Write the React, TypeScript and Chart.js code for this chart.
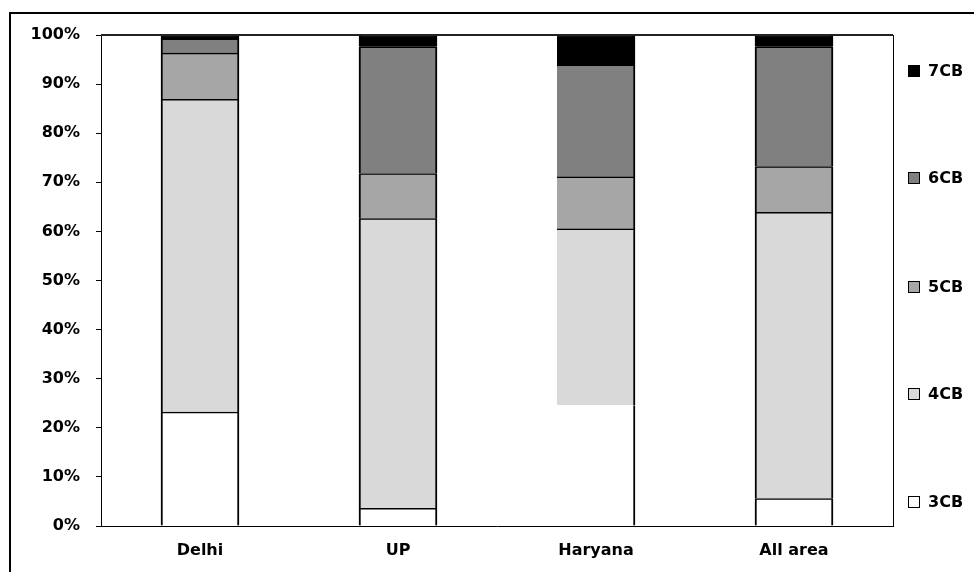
import React, { useEffect, useRef } from "react";
import { Chart, registerables } from "chart.js";

Chart.register(...registerables);

const categories = ["Delhi", "UP", "Haryana", "All area"];
const seriesNames = ["3CB", "4CB", "5CB", "6CB", "7CB"];
const cb3 = [23.2, 3.6, 24.6, 5.6];
const cb4 = [63.7, 59.0, 35.9, 58.3];
const cb5 = [9.4, 9.2, 10.6, 9.3];
const cb6 = [2.9, 25.8, 22.8, 24.4];
const cb7 = [0.8, 2.4, 6.1, 2.4];
const yTicks = [0, 10, 20, 30, 40, 50, 60, 70, 80, 90, 100];

const colors = ["#ffffff", "#d9d9d9", "#a6a6a6", "#808080", "#000000"];
const FONT = "'DejaVu Sans', sans-serif";

const framePlugin = {
  id: "framePlugin",
  afterDraw(chart: any) {
    const { ctx, chartArea } = chart;
    ctx.save();
    ctx.strokeStyle = "#000";
    ctx.lineWidth = 2;
    ctx.beginPath();
    ctx.moveTo(10, 572);
    ctx.lineTo(10, 13);
    ctx.lineTo(974, 13);
    ctx.stroke();
    ctx.strokeStyle = "#222";
    ctx.lineWidth = 2;
    ctx.beginPath();
    ctx.moveTo(chartArea.left, chartArea.top);
    ctx.lineTo(chartArea.right, chartArea.top);
    ctx.stroke();
    ctx.strokeStyle = "#000";
    ctx.lineWidth = 1;
    ctx.beginPath();
    ctx.moveTo(chartArea.right + 0.5, chartArea.top);
    ctx.lineTo(chartArea.right + 0.5, chartArea.bottom);
    ctx.stroke();
    const items = chart.data.datasets.map((d: any) => ({ label: d.label, color: d.backgroundColor }));
    const ys = [502, 394, 287, 178, 71];
    ctx.font = "bold 16px " + FONT;
    ctx.textBaseline = "middle";
    ctx.textAlign = "left";
    items.forEach((it: any, i: number) => {
      const y = ys[i];
      ctx.fillStyle = it.color;
      ctx.fillRect(908, y - 6, 12, 12);
      ctx.strokeStyle = "#000";
      ctx.lineWidth = 1;
      ctx.strokeRect(908.5, y - 5.5, 11, 11);
      ctx.fillStyle = "#000";
      ctx.fillText(it.label, 928, y + 1);
    });
    ctx.restore();
  },
};

export default function App() {
  const ref = useRef<HTMLCanvasElement>(null);
  useEffect(() => {
    if (!ref.current) return;
    const all = [cb3, cb4, cb5, cb6, cb7];
    const leftW = [2, 2, 0, 2];
    const chart = new Chart(ref.current, {
      type: "bar",
      data: {
        labels: categories,
        datasets: all.map((vals, si) => ({
          label: seriesNames[si],
          data: vals,
          backgroundColor: colors[si],
          borderColor: "#000",
          borderSkipped: false,
          borderWidth: (c: any) => ({
            top: si === 0 && c.dataIndex === 2 ? 0 : 1.5,
            left: leftW[c.dataIndex] ?? 1,
            right: 2,
            bottom: 0,
          }),
          barThickness: 78,
        })),
      },
      options: {
        responsive: false,
        animation: false,
        layout: { padding: { top: 35, right: 81, left: 0, bottom: 0 } },
        plugins: { legend: { display: false }, tooltip: { enabled: false } },
        scales: {
          x: {
            stacked: true,
            grid: { display: false, drawTicks: false },
            border: { display: true, color: "#000", width: 1 },
            ticks: { color: "#000", font: { family: FONT, size: 16, weight: "bold" }, padding: 15 },
            afterFit: (s: any) => { s.height = 46; },
          },
          y: {
            stacked: true,
            min: 0,
            max: 100,
            afterBuildTicks: (s: any) => { s.ticks = yTicks.map((v) => ({ value: v })); },
            grid: { drawOnChartArea: false, drawTicks: true, tickLength: 5, color: "#000" },
            border: { display: true, color: "#000", width: 1 },
            ticks: {
              color: "#000",
              padding: 16,
              font: { family: FONT, size: 16, weight: "bold" },
              callback: (v: any) => v + "%",
            },
            afterFit: (s: any) => { s.width = 101; },
          },
        },
      },
      plugins: [framePlugin],
    });
    return () => chart.destroy();
  }, []);
  return (
    <div style={{ position: "absolute", left: 0, top: 0, width: 974, height: 572, background: "#fff" }}>
      <canvas ref={ref} width={974} height={572} style={{ display: "block" }} />
    </div>
  );
}
